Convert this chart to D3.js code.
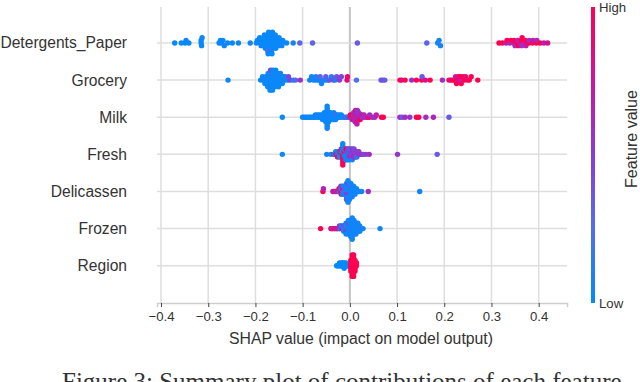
<!DOCTYPE html>
<html>
<head>
<meta charset="utf-8">
<script src="https://cdn.jsdelivr.net/npm/d3@7"></script>
<style>
  body { margin: 0; background: #fff; }
  text { font-family: "Liberation Sans", Arial, sans-serif; fill: #333; }
</style>
</head>
<body>
<svg id="chart" width="640" height="382"></svg>
<script>
// features, top to bottom
const features = ["Detergents_Paper", "Grocery", "Milk", "Fresh", "Delicassen", "Frozen", "Region"];
const xTicks = [-0.4, -0.3, -0.2, -0.1, 0.0, 0.1, 0.2, 0.3, 0.4];

// each point: [shap value, feature value (0 = low, 1 = high)]
const detergentsPaper = [
  [-0.371,0.02],[-0.357,0.03],[-0.349,0.02],[-0.347,0.03],[-0.341,0.02],
  [-0.315,0.02],[-0.315,0.03],[-0.314,0.02],[-0.313,0.03],
  [-0.277,0.03],[-0.274,0.02],[-0.272,0.03],[-0.269,0.02],[-0.266,0.03],[-0.259,0.03],[-0.249,0.02],[-0.236,0.03],[-0.211,0.04],
  [-0.198,0.03],[-0.196,0.02],
  [-0.190,0.03],[-0.189,0.02],[-0.188,0.04],[-0.191,0.03],
  [-0.182,0.03],[-0.181,0.02],[-0.180,0.04],[-0.183,0.03],[-0.179,0.02],[-0.181,0.03],
  [-0.174,0.03],[-0.173,0.02],[-0.172,0.04],[-0.175,0.03],[-0.171,0.02],[-0.173,0.03],[-0.174,0.3],[-0.172,0.03],[-0.173,0.02],
  [-0.166,0.03],[-0.165,0.02],[-0.164,0.04],[-0.167,0.03],[-0.163,0.02],[-0.165,0.03],[-0.166,0.04],[-0.164,0.03],[-0.165,0.02],
  [-0.158,0.03],[-0.157,0.02],[-0.156,0.04],[-0.159,0.03],[-0.157,0.02],[-0.158,0.03],
  [-0.150,0.03],[-0.149,0.02],[-0.151,0.04],[-0.150,0.03],
  [-0.143,0.03],[-0.142,0.02],[-0.144,0.04],
  [-0.134,0.05],[-0.120,0.08],[-0.106,0.3],[-0.079,0.3],[0.016,0.35],[0.163,0.3],[0.186,0.08],[0.189,0.06],[0.192,0.08],
  [0.316,1],[0.323,1],[0.331,0.7],[0.333,1],[0.339,0.6],[0.341,1],[0.347,0.75],[0.348,1],[0.350,0.6],[0.355,1],
  [0.356,0.65],[0.357,1],[0.362,0.7],[0.363,1],[0.364,0.6],[0.365,1],[0.371,0.65],[0.372,1],[0.373,0.7],[0.379,1],
  [0.380,0.6],[0.387,1],[0.388,0.7],[0.395,1],[0.396,0.65],[0.403,1],[0.411,0.7],[0.419,0.8]
];

const grocery = [
  [-0.258,0.05],
  [-0.189,0.03],
  [-0.184,0.03],[-0.185,0.04],
  [-0.179,0.03],[-0.178,0.05],[-0.180,0.03],
  [-0.173,0.03],[-0.174,0.04],[-0.172,0.03],[-0.173,0.05],[-0.174,0.03],
  [-0.168,0.03],[-0.167,0.04],[-0.169,0.03],[-0.168,0.05],[-0.167,0.03],[-0.168,0.4],[-0.169,0.03],
  [-0.163,0.03],[-0.162,0.04],[-0.164,0.03],[-0.163,0.05],[-0.162,0.03],[-0.163,0.04],[-0.164,0.03],
  [-0.157,0.03],[-0.158,0.05],[-0.156,0.03],[-0.157,0.04],[-0.158,0.03],[-0.157,0.03],
  [-0.152,0.03],[-0.151,0.04],[-0.153,0.03],[-0.152,0.05],[-0.151,0.03],
  [-0.147,0.03],[-0.146,0.04],[-0.148,0.03],[-0.147,0.05],
  [-0.142,0.03],[-0.141,0.04],[-0.143,0.03],
  [-0.136,0.04],[-0.137,0.05],
  [-0.131,0.03],[-0.130,0.45],
  [-0.126,0.5],[-0.120,0.05],[-0.115,0.3],[-0.105,0.55],
  [-0.085,0.05],[-0.081,0.05],[-0.077,0.08],[-0.073,0.05],[-0.072,0.1],[-0.068,0.05],[-0.064,0.05],[-0.063,0.3],
  [-0.060,0.05],[-0.056,0.08],[-0.052,0.05],[-0.051,0.35],[-0.047,0.05],[-0.043,0.4],[-0.039,0.1],[-0.035,0.45],
  [-0.031,0.05],[-0.028,0.4],[-0.022,0.5],[-0.018,0.45],[-0.006,0.85],[-0.005,0.9],[0.014,0.25],
  [0.066,0.35],[0.070,0.4],[0.074,0.35],
  [0.106,1],[0.110,0.85],[0.117,1],[0.131,0.6],[0.141,1],[0.152,1],[0.153,0.35],[0.160,0.8],[0.170,1],
  [0.196,0.6],
  [0.210,1],[0.214,0.85],[0.218,1],[0.221,1],[0.224,0.7],[0.226,1],[0.229,1],[0.230,0.9],[0.232,0.75],[0.234,1],
  [0.236,1],[0.238,0.7],[0.240,1],[0.243,1],[0.245,0.85],[0.249,1],[0.253,1],[0.257,1],
  [0.271,1]
];

const milk = [
  [-0.143,0.03],
  [-0.100,0.03],[-0.097,0.05],[-0.093,0.03],[-0.090,0.04],[-0.086,0.03],[-0.083,0.05],[-0.080,0.03],[-0.077,0.04],
  [-0.074,0.03],[-0.073,0.05],[-0.070,0.03],[-0.069,0.04],[-0.066,0.03],[-0.065,0.1],
  [-0.062,0.03],[-0.061,0.05],[-0.059,0.03],[-0.058,0.04],[-0.058,0.03],
  [-0.055,0.03],[-0.055,0.05],[-0.054,0.03],[-0.054,0.04],
  [-0.052,0.03],[-0.051,0.05],[-0.052,0.03],[-0.051,0.04],[-0.051,0.03],
  [-0.048,0.03],[-0.048,0.05],[-0.048,0.03],[-0.048,0.04],[-0.048,0.03],[-0.048,0.02],
  [-0.048,0.05],[-0.048,0.03],[-0.048,0.04],[-0.048,0.03],[-0.048,0.05],
  [-0.045,0.03],[-0.044,0.05],[-0.045,0.03],[-0.044,0.04],[-0.045,0.03],
  [-0.041,0.03],[-0.041,0.05],[-0.040,0.03],[-0.041,0.04],
  [-0.037,0.03],[-0.037,0.05],[-0.036,0.03],
  [-0.034,0.03],[-0.033,0.04],[-0.033,0.03],[-0.034,0.05],
  [-0.030,0.03],[-0.029,0.3],[-0.030,0.04],
  [-0.026,0.03],[-0.026,0.05],
  [-0.022,0.03],[-0.022,0.05],[-0.021,0.04],
  [-0.018,0.03],[-0.015,0.05],[-0.012,0.03],[-0.008,0.35],[-0.005,0.04],
  [0.000,0.7],[0.001,1],
  [0.004,0.6],[0.004,1],[0.005,0.65],
  [0.008,0.7],[0.008,0.5],[0.009,1],[0.008,0.6],
  [0.012,0.65],[0.012,1],[0.011,0.6],[0.012,0.7],[0.011,0.55],[0.012,0.8],
  [0.015,0.6],[0.015,0.7],[0.016,0.65],[0.015,0.55],[0.015,1],[0.016,0.6],[0.015,0.7],
  [0.019,0.6],[0.019,0.65],[0.018,0.7],[0.019,0.55],
  [0.022,0.6],[0.023,0.65],[0.022,1],
  [0.026,0.6],[0.026,0.7],
  [0.029,0.55],[0.030,0.65],
  [0.034,0.6],[0.037,0.7],[0.041,1],[0.042,0.6],[0.048,0.65],[0.053,0.6],[0.056,0.7],
  [0.067,1],[0.071,1],[0.106,0.6],[0.111,0.35],[0.117,0.6],[0.127,0.55],[0.141,1],[0.146,1],[0.161,0.6],[0.177,0.65],[0.210,0.35]
];

const fresh = [
  [-0.143,0.03],
  [-0.049,0.05],
  [-0.040,0.03],
  [-0.034,1],[-0.033,0.05],
  [-0.030,0.05],[-0.029,0.95],
  [-0.026,0.03],[-0.025,0.05],[-0.026,1],
  [-0.022,0.05],[-0.021,0.9],[-0.022,0.03],
  [-0.018,1],[-0.018,0.05],[-0.019,0.03],[-0.018,0.9],
  [-0.015,1],[-0.015,0.05],[-0.015,0.95],[-0.015,0.03],[-0.015,1],[-0.015,0.05],[-0.015,0.9],[-0.015,0.03],[-0.015,1],
  [-0.012,0.05],[-0.012,1],[-0.011,0.03],[-0.012,0.05],[-0.012,0.9],
  [-0.008,0.05],[-0.008,0.4],[-0.009,0.03],[-0.008,1],[-0.008,0.05],
  [-0.005,0.05],[-0.005,0.5],[-0.005,0.03],[-0.004,0.55],[-0.005,0.05],
  [-0.001,0.5],[-0.002,0.05],[-0.001,0.55],[-0.002,0.45],[-0.001,0.03],
  [0.002,0.5],[0.002,0.55],[0.002,0.6],[0.003,0.45],[0.002,0.05],
  [0.005,0.5],[0.006,0.55],[0.005,0.6],[0.005,0.05],
  [0.009,0.5],[0.009,0.55],[0.008,0.6],[0.009,0.45],
  [0.012,0.55],[0.012,0.5],[0.012,0.6],
  [0.015,0.5],[0.016,0.55],[0.015,0.05],
  [0.019,0.6],[0.019,0.5],
  [0.022,0.55],[0.025,0.6],[0.029,0.45],[0.034,0.5],
  [0.041,0.6],[0.101,0.55],[0.185,0.35]
];

const delicassen = [
  [-0.057,1],[-0.056,0.65],
  [-0.036,0.6],[-0.034,0.7],
  [-0.030,1],[-0.029,0.65],
  [-0.024,1],[-0.023,0.05],[-0.023,0.9],
  [-0.019,1],[-0.019,0.05],[-0.018,0.95],[-0.019,0.6],
  [-0.015,0.05],[-0.015,1],[-0.015,0.05],[-0.014,0.4],[-0.015,0.05],
  [-0.011,0.05],[-0.011,0.05],[-0.010,0.3],[-0.011,0.05],[-0.011,0.05],[-0.010,0.4],
  [-0.007,0.05],[-0.007,0.05],[-0.007,0.5],[-0.007,0.05],[-0.007,0.05],[-0.007,0.05],[-0.007,0.45],
  [-0.004,0.05],[-0.004,0.05],[-0.004,0.55],[-0.004,0.05],[-0.004,0.05],[-0.004,0.5],[-0.004,0.05],[-0.004,0.05],[-0.004,0.05],
  [-0.001,0.05],[-0.001,0.05],[-0.001,0.5],[-0.001,0.05],[-0.001,0.05],[-0.001,0.05],[-0.001,0.05],
  [0.002,0.05],[0.002,0.05],[0.002,0.05],[0.002,0.4],[0.002,0.05],[0.002,0.05],
  [0.005,0.05],[0.005,0.05],[0.005,0.05],[0.005,0.05],[0.005,0.05],
  [0.008,0.05],[0.008,0.05],[0.008,0.05],[0.008,0.05],
  [0.011,0.05],[0.011,0.05],[0.011,0.05],
  [0.014,0.05],[0.014,0.05],
  [0.018,0.05],[0.020,0.05],[0.025,0.05],[0.039,0.6],[0.148,0.05]
];

const frozen = [
  [-0.062,1],
  [-0.040,1],[-0.039,0.9],[-0.037,1],[-0.036,0.6],
  [-0.033,1],[-0.032,0.95],[-0.031,0.7],
  [-0.028,1],[-0.027,0.6],[-0.026,0.8],
  [-0.023,0.7],[-0.022,1],[-0.021,0.05],[-0.022,0.6],
  [-0.018,0.05],[-0.017,0.8],[-0.018,0.05],[-0.017,0.05],
  [-0.013,0.05],[-0.013,0.6],[-0.012,0.05],[-0.013,0.05],[-0.012,0.4],
  [-0.008,0.05],[-0.008,0.05],[-0.008,0.5],[-0.008,0.05],[-0.008,0.05],
  [-0.003,0.05],[-0.003,0.05],[-0.003,0.05],[-0.003,0.45],[-0.003,0.05],[-0.003,0.05],
  [0.002,0.05],[0.002,0.05],[0.002,0.05],[0.002,0.05],[0.002,0.05],[0.002,0.05],[0.002,0.05],
  [0.005,0.05],[0.005,0.05],[0.005,0.05],[0.005,0.05],[0.005,0.05],[0.005,0.05],[0.005,0.05],[0.005,0.05],[0.005,0.05],
  [0.009,0.05],[0.009,0.05],[0.009,0.05],[0.009,0.05],[0.009,0.05],[0.009,0.05],
  [0.013,0.05],[0.013,0.05],[0.013,0.05],[0.013,0.05],[0.013,0.05],
  [0.017,0.05],[0.017,0.05],[0.017,0.05],[0.017,0.05],
  [0.021,0.05],[0.021,0.05],[0.021,0.05],
  [0.025,0.05],[0.028,0.05],[0.064,0.05]
];

const region = [
  [-0.028,0.02],[-0.026,0.02],[-0.024,0.02],[-0.022,0.02],[-0.022,0.02],[-0.020,0.02],[-0.018,0.02],[-0.018,0.02],
  [-0.016,0.02],[-0.015,0.02],[-0.015,0.02],[-0.013,0.02],[-0.012,0.02],[-0.012,0.02],[-0.012,0.02],
  [-0.010,0.02],[-0.008,0.02],[-0.008,0.02],[-0.006,0.02],[-0.004,0.02],[-0.002,0.02],
  [0.002,1],[0.002,1],[0.002,1],[0.002,1],[0.002,1],
  [0.005,1],[0.005,1],[0.005,1],[0.005,1],[0.005,1],[0.005,1],[0.005,1],[0.005,1],[0.005,1],
  [0.008,1],[0.008,1],[0.008,1],[0.008,1],[0.008,1],[0.008,1],[0.008,1],[0.008,1],[0.008,1],
  [0.011,1],[0.011,1],[0.011,1],[0.011,1],[0.011,1],
  [0.014,1],[0.014,1]
];

const rows = [detergentsPaper, grocery, milk, fresh, delicassen, frozen, region];

const svg = d3.select("#chart");

const x = d3.scaleLinear().domain([-0.4085, 0.46]).range([157, 567]);
const y = d3.scalePoint().domain(features).range([43, 265.7]);
const rowStep = y.step();
const axisY = 303;

// shap-like colormap, blue (low) to red (high)
const color = d3.piecewise(d3.interpolateRgb, ["#008bfb", "#506ef0", "#8a3cd6", "#cd14a0", "#ff0052"]);

// vertical grid
svg.append("g")
  .selectAll("line")
  .data(xTicks)
  .join("line")
  .attr("x1", d => x(d)).attr("x2", d => x(d))
  .attr("y1", 7).attr("y2", axisY)
  .attr("stroke", d => d === 0 ? "#c4c4c4" : "#dedede")
  .attr("stroke-width", d => d === 0 ? 2 : 1.5);

// row lines
svg.append("g")
  .selectAll("line")
  .data(features)
  .join("line")
  .attr("x1", x.range()[0]).attr("x2", x.range()[1])
  .attr("y1", d => y(d)).attr("y2", d => y(d))
  .attr("stroke", "#dedede")
  .attr("stroke-width", 1.5);

// beeswarm offsets like shap's summary_plot
function swarm(points) {
  const vals = points.map(p => p[0]);
  const lo = d3.min(vals), hi = d3.max(vals);
  const quant = vals.map(v => Math.round(100 * (v - lo) / (hi - lo + 1e-8)));
  const order = d3.range(vals.length).sort((a, b) => quant[a] - quant[b] || a - b);
  const ys = new Array(vals.length).fill(0);
  let layer = 0, last = -1;
  for (const i of order) {
    if (quant[i] !== last) layer = 0;
    ys[i] = Math.ceil(layer / 2) * ((layer % 2) * 2 - 1);
    layer++;
    last = quant[i];
  }
  const m = d3.max(ys, v => v + 1);
  return ys.map(v => v * 0.9 * (0.4 / m) * rowStep);
}

features.forEach((f, i) => {
  const pts = rows[i];
  const off = swarm(pts);
  svg.append("g")
    .selectAll("circle")
    .data(pts)
    .join("circle")
    .attr("cx", d => x(d[0]))
    .attr("cy", (d, j) => y(f) - off[j])
    .attr("r", 2.7)
    .attr("fill", d => color(d[1]));
});

// y labels
svg.append("g")
  .selectAll("text")
  .data(features)
  .join("text")
  .attr("x", 127)
  .attr("y", d => y(d))
  .attr("dy", "0.35em")
  .attr("text-anchor", "end")
  .attr("font-size", 15.6)
  .text(d => d);

// x axis
const xAxis = svg.append("g")
  .attr("transform", `translate(0,${axisY})`)
  .call(d3.axisBottom(x).tickValues(xTicks).tickFormat(d3.format(".1f")).tickSize(4).tickPadding(5));
xAxis.select(".domain").attr("stroke", "#cfcfcf").attr("stroke-width", 1.5);
xAxis.selectAll(".tick line").attr("stroke", "#444");
xAxis.selectAll(".tick text")
  .attr("font-size", 13.2)
  .attr("font-family", "Liberation Sans, Arial, sans-serif")
  .attr("fill", "#333");

svg.append("text")
  .attr("x", 361)
  .attr("y", 343.5)
  .attr("text-anchor", "middle")
  .attr("font-size", 15.8)
  .text("SHAP value (impact on model output)");

// color bar
const grad = svg.append("defs").append("linearGradient")
  .attr("id", "cbar")
  .attr("x1", 0).attr("y1", 1).attr("x2", 0).attr("y2", 0);
grad.selectAll("stop")
  .data(d3.range(0, 1.0001, 0.05))
  .join("stop")
  .attr("offset", d => d)
  .attr("stop-color", d => color(d));

svg.append("rect")
  .attr("x", 591).attr("y", 7)
  .attr("width", 4).attr("height", 296)
  .attr("fill", "url(#cbar)");

svg.append("text").attr("x", 599).attr("y", 7).attr("dy", "0.35em")
  .attr("font-size", 13.2).text("High");
svg.append("text").attr("x", 599).attr("y", 303).attr("dy", "0.35em")
  .attr("font-size", 13.2).text("Low");
svg.append("text")
  .attr("transform", "translate(631,139) rotate(-90)")
  .attr("text-anchor", "middle")
  .attr("dy", "0.35em")
  .attr("font-size", 16)
  .text("Feature value");

// figure caption, cut off at the bottom edge like the source page
svg.append("text")
  .attr("x", 62)
  .attr("y", 390)
  .attr("font-size", 25)
  .attr("fill", "#222")
  .style("font-family", "'Liberation Serif', serif")
  .text("Figure 3: Summary plot of contributions of each feature");
</script>
</body>
</html>
